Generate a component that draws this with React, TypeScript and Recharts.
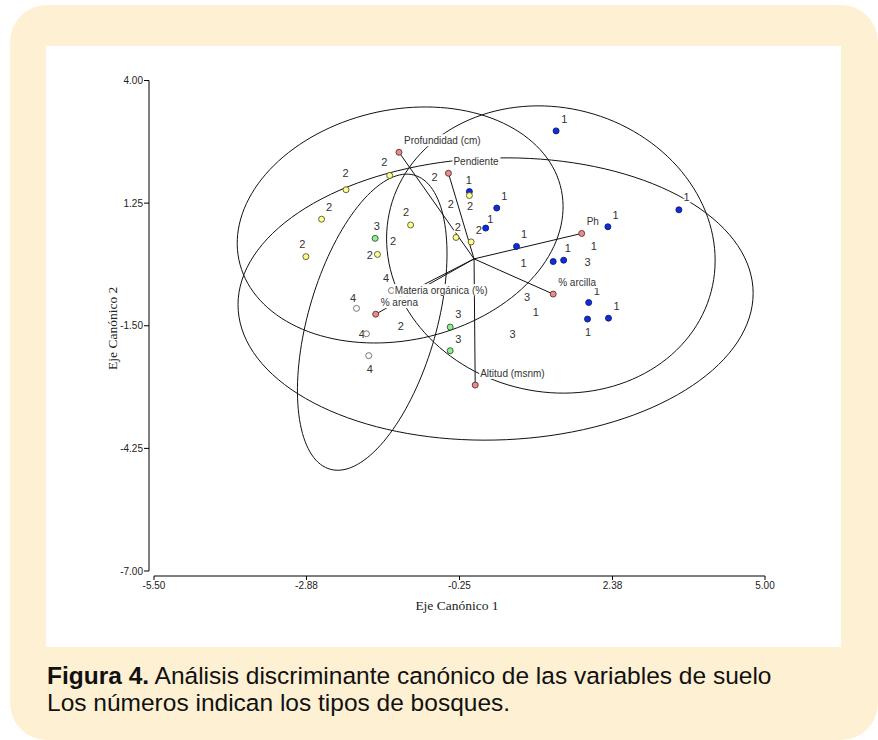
import React from "react";
import { ScatterChart, Scatter, XAxis, YAxis, ReferenceLine } from "recharts";

// axes
const X_TICKS = [-5.5, -2.88, -0.25, 2.38, 5];
const Y_TICKS = [4, 1.25, -1.5, -4.25, -7];
const X_MIN = -5.5;
const X_MAX = 5;
const Y_MIN = -7;
const Y_MAX = 4;
// the axes are drawn a little apart from each other
const X_GAP = 0.086;
const Y_GAP = 0.112;

// canonical scores of the plots, one list per forest type [eje 1, eje 2]
const tipo1 = [
  [1.41, 2.87], [3.52, 1.1], [2.3, 0.72], [0.39, 1.14], [0.2, 0.69], [0.73, 0.28],
  [1.36, -0.06], [1.54, -0.03], [1.97, -0.98], [1.95, -1.35], [2.31, -1.33], [-0.08, 1.51],
];
const tipo2 = [
  [-1.45, 1.87], [-2.2, 1.55], [-2.62, 0.89], [-2.89, 0.05], [-1.09, 0.76],
  [-1.66, 0.1], [-0.08, 1.42], [-0.31, 0.48], [-0.05, 0.38],
];
const tipo3 = [[-1.7, 0.46], [-0.41, -1.53], [-0.41, -2.06]];
const tipo4 = [[-1.42, -0.71], [-2.02, -1.11], [-1.85, -1.68], [-1.81, -2.17]];

// number labels printed on the plot [eje 1, eje 2, tipo]
const etiquetas: [number, number, string][] = [
  [-1.54, 2.18, "2"], [-2.21, 1.92, "2"], [-2.49, 1.17, "2"], [-2.95, 0.33, "2"],
  [-1.17, 1.05, "2"], [-1.79, 0.09, "2"], [-1.67, 0.74, "3"], [-1.39, 0.4, "2"],
  [-0.68, 1.84, "2"], [-0.09, 1.77, "1"], [-0.07, 1.19, "2"], [-0.4, 1.22, "2"],
  [-0.28, 0.71, "2"], [0.08, 0.65, "2"], [-1.51, -0.44, "4"], [0.52, 1.41, "1"],
  [0.28, 0.89, "1"], [0.86, 0.56, "1"], [0.85, -0.1, "1"], [1.55, 3.14, "1"],
  [1.61, 0.24, "1"], [1.95, -0.06, "3"], [2.06, 0.29, "1"], [2.43, 0.98, "1"],
  [3.65, 1.38, "1"], [2.11, -0.71, "1"], [2.45, -1.05, "1"], [1.96, -1.65, "1"],
  [0.91, -0.86, "3"], [1.06, -1.2, "1"], [0.66, -1.68, "3"], [-2.08, -0.88, "4"],
  [-1.26, -1.5, "2"], [-1.93, -1.68, "4"], [-1.79, -2.48, "4"], [-0.27, -1.24, "3"],
  [-0.27, -1.8, "3"],
];

// soil variables (biplot vectors)
const variables = [
  "Profundidad (cm)", "Pendiente", "Ph", "% arcilla",
  "Altitud (msnm)", "% arena", "Materia orgánica (%)",
];
const varEje1 = [-1.29, -0.44, 1.85, 1.36, 0.02, -1.69, -1.45];
const varEje2 = [2.39, 1.92, 0.57, -0.79, -2.83, -1.24, -0.97];

// confidence ellipses per type [centre eje 1, centre eje 2, semi major, semi minor, angle deg]
const elipses = [
  [1.32, 0.21, 3.25, 2.79, 105],
  [-1.27, 0.76, 2.94, 2.49, 35],
  [0.37, -0.9, 4.43, 3.16, 3.4],
  [-1.75, -1.42, 3.38, 1.12, 78.6],
];

const grupos = [
  { data: tipo1, fill: "#0a2ee8", stroke: "#1a1a55" },
  { data: tipo3, fill: "#8ef08e", stroke: "#335533" },
  { data: tipo4, fill: "#ffffff", stroke: "#666666" },
  { data: tipo2, fill: "#ffff8c", stroke: "#555533" },
];

const SANS = "'Liberation Sans', Arial, Helvetica, sans-serif";
const SERIF = "'Liberation Serif', 'Times New Roman', serif";

const toPts = (list: number[][]) => list.map(([x, y]) => ({ x, y }));

const ellipsePoints = ([cx, cy, a, b, ang]: number[]) => {
  const r = (ang * Math.PI) / 180;
  const pts: { x: number; y: number }[] = [];
  for (let i = 0; i <= 144; i += 1) {
    const t = (i / 144) * 2 * Math.PI;
    const u = a * Math.cos(t);
    const v = b * Math.sin(t);
    pts.push({
      x: cx + u * Math.cos(r) - v * Math.sin(r),
      y: cy + u * Math.sin(r) + v * Math.cos(r),
    });
  }
  return pts;
};

const varData = variables.map((name, i) => ({ x: varEje1[i], y: varEje2[i], name }));
const labelData = etiquetas.map(([x, y, t]) => ({ x, y, t }));

const Nothing = () => <g />;

const dot = (fill: string, stroke: string) => (props: any) => (
  <circle cx={props.cx} cy={props.cy} r={3} fill={fill} stroke={stroke} strokeWidth={0.9} />
);

const NumberLabel = (props: any) => (
  <text
    x={props.cx}
    y={props.cy}
    textAnchor="middle"
    dominantBaseline="central"
    fontSize={11}
    fontFamily={SANS}
    stroke="#fff"
    strokeWidth={3}
    paintOrder="stroke"
    style={{ fill: "#333" }}
  >
    {props.payload.t}
  </text>
);

const VarLabel = (props: any) => {
  const name: string = props.payload.name;
  const w = name.length * 5.0 + 3;
  const x = props.cx + 5;
  const y = props.cy - 12;
  return (
    <g>
      <rect x={x - 1} y={y - 6} width={w} height={12} style={{ fill: "#fff" }} />
      <text x={x} y={y} dominantBaseline="central" fontSize={10} fontFamily={SANS} style={{ fill: "#333" }}>
        {name}
      </text>
    </g>
  );
};

const tickStyle = { fontSize: 10, fill: "#222", fontFamily: SANS };

const App = () => {
  return (
    <div style={{ position: "absolute", left: 0, top: 0, width: 878, height: 740, background: "#fff" }}>
      <div
        style={{
          position: "absolute",
          left: 10,
          top: 5,
          width: 868,
          height: 735,
          background: "#fef0d3",
          borderRadius: 37,
        }}
      />
      <div style={{ position: "absolute", left: 46, top: 46, width: 795, height: 601, background: "#fff" }} />
      <div style={{ position: "absolute", left: 0, top: 0 }}>
        <ScatterChart width={878} height={660} margin={{ top: 80.5, right: 113, bottom: 44, left: 89 }}>
          <XAxis
            type="number"
            dataKey="x"
            domain={[X_MIN - X_GAP, X_MAX]}
            ticks={X_TICKS}
            interval={0}
            allowDataOverflow
            tickFormatter={(v: number) => v.toFixed(2)}
            axisLine={false}
            tickLine={{ stroke: "#000" }}
            tickSize={4}
            tickMargin={2}
            tick={tickStyle}
            height={40}
            label={{
              value: "Eje Canónico 1",
              position: "insideBottom",
              offset: 6,
              style: { fontSize: 13.5, fontFamily: SERIF, fill: "#222" },
            }}
          />
          <YAxis
            type="number"
            dataKey="y"
            domain={[Y_MIN - Y_GAP, Y_MAX]}
            ticks={Y_TICKS}
            interval={0}
            allowDataOverflow
            tickFormatter={(v: number) => v.toFixed(2)}
            axisLine={false}
            tickLine={{ stroke: "#000" }}
            tickSize={5}
            tickMargin={1}
            tick={tickStyle}
            width={60}
            label={{
              value: "Eje Canónico 2",
              angle: -90,
              position: "insideLeft",
              offset: 23,
              style: { fontSize: 13.5, fontFamily: SERIF, fill: "#222", textAnchor: "middle" },
            }}
          />
          <ReferenceLine
            segment={[{ x: X_MIN - X_GAP, y: Y_MIN }, { x: X_MIN - X_GAP, y: Y_MAX }]}
            stroke="#000"
            ifOverflow="visible"
          />
          <ReferenceLine
            segment={[{ x: X_MIN, y: Y_MIN - Y_GAP }, { x: X_MAX, y: Y_MIN - Y_GAP }]}
            stroke="#000"
            ifOverflow="visible"
          />

          {elipses.map((e, i) => (
            <Scatter
              key={`el${i}`}
              data={ellipsePoints(e)}
              line={{ stroke: "#111", strokeWidth: 1 }}
              shape={Nothing}
              isAnimationActive={false}
            />
          ))}

          {varData.map((v, i) => (
            <Scatter
              key={`vec${i}`}
              data={[{ x: 0, y: 0 }, { x: v.x, y: v.y }]}
              line={{ stroke: "#111", strokeWidth: 1 }}
              shape={Nothing}
              isAnimationActive={false}
            />
          ))}

          <Scatter data={labelData} shape={NumberLabel} isAnimationActive={false} />

          {grupos.map((g, i) => (
            <Scatter key={`g${i}`} data={toPts(g.data)} shape={dot(g.fill, g.stroke)} isAnimationActive={false} />
          ))}

          <Scatter data={varData} shape={dot("#f08a8a", "#553333")} isAnimationActive={false} />
          <Scatter data={varData} shape={VarLabel} isAnimationActive={false} />
        </ScatterChart>
      </div>
      <div
        style={{
          position: "absolute",
          left: 47,
          top: 662,
          fontFamily: SANS,
          fontSize: 24.5,
          lineHeight: "27px",
          color: "#111",
          whiteSpace: "nowrap",
        }}
      >
        <div>
          <b>Figura 4.</b> Análisis discriminante canónico de las variables de suelo
        </div>
        <div>Los números indican los tipos de bosques.</div>
      </div>
    </div>
  );
};

export default App;
